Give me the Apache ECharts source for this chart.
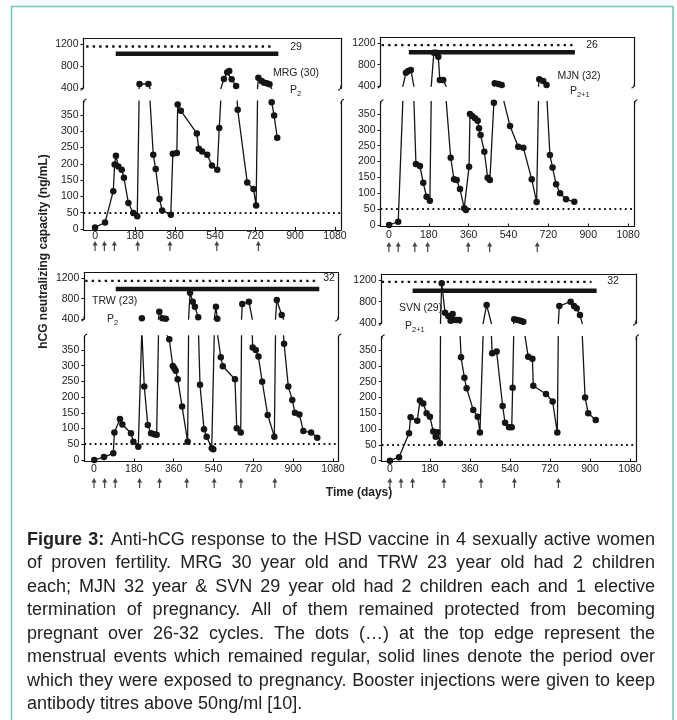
<!DOCTYPE html>
<html>
<head>
<meta charset="utf-8">
<title>Anti-hCG response</title>
<script src="https://cdn.jsdelivr.net/npm/echarts@6/dist/echarts.min.js"></script>
<style>
  html, body { margin: 0; padding: 0; background: #fff; }
  #main { width: 677px; height: 720px; }
</style>
</head>
<body>
<div id="main"></div>
<script>
// ---- data ----
const dayTicks = [0, 180, 360, 540, 720, 900, 1080];
const lowTicks = [0, 50, 100, 150, 200, 250, 300, 350];
const highTicks = [400, 800, 1200];
const titreFloor = 50;

// MRG (30)
const mrgDays = [0, 45, 82, 88, 94, 105, 120, 130, 150, 172, 190, 200, 240, 262, 273, 290, 302, 341, 350, 368, 372, 386, 458, 467, 482, 505, 526, 550, 559, 580, 595, 604, 615, 635, 642, 685, 713, 725, 735, 750, 761, 773, 785, 795, 806, 820];
const mrgValues = [5, 20, 116, 198, 225, 192, 182, 157, 80, 49, 39, 478, 478, 228, 184, 92, 57, 44, 231, 233, 382, 363, 293, 246, 238, 228, 195, 182, 310, 569, 691, 715, 564, 442, 366, 143, 123, 72, 593, 533, 502, 491, 473, 389, 348, 280];
const mrgBoosters = [0, 42, 87, 192, 337, 548, 735];

// MJN (32)
const mjnDays = [1, 42, 77, 87, 99, 122, 140, 155, 170, 185, 203, 212, 223, 230, 245, 279, 294, 306, 321, 340, 348, 362, 366, 376, 389, 401, 407, 414, 431, 446, 456, 474, 478, 494, 509, 547, 584, 607, 645, 667, 679, 697, 712, 727, 739, 755, 773, 800, 837];
const mjnValues = [0, 10, 649, 681, 700, 192, 186, 133, 89, 76, 1024, 1024, 949, 512, 512, 212, 144, 142, 113, 53, 47, 184, 350, 344, 337, 329, 305, 284, 231, 149, 142, 386, 450, 437, 419, 312, 247, 244, 144, 72, 525, 494, 419, 221, 181, 128, 100, 81, 73];
const mjnBoosters = [0, 42, 117, 175, 358, 455, 670];

// TRW (23)
const trwDays = [1, 45, 87, 92, 117, 128, 167, 178, 200, 216, 227, 243, 258, 272, 283, 295, 309, 324, 340, 356, 363, 369, 378, 398, 423, 434, 446, 456, 471, 479, 497, 509, 532, 539, 551, 557, 573, 582, 637, 645, 663, 670, 700, 717, 731, 743, 760, 785, 815, 826, 848, 859, 878, 896, 908, 928, 946, 981, 1009];
const trwValues = [0, 9, 21, 87, 130, 113, 85, 58, 42, 414, 234, 111, 85, 82, 80, 543, 414, 405, 384, 299, 292, 284, 257, 170, 58, 917, 740, 642, 433, 239, 98, 74, 37, 34, 642, 405, 327, 298, 257, 101, 87, 695, 740, 358, 350, 329, 249, 143, 74, 773, 479, 370, 234, 191, 150, 145, 92, 87, 71];
const trwBoosters = [0, 48, 96, 206, 296, 419, 543, 664, 817];

// SVN (29)
const svnDays = [0, 41, 86, 93, 123, 135, 150, 165, 180, 195, 206, 213, 225, 233, 248, 263, 273, 282, 288, 300, 312, 320, 335, 345, 375, 395, 405, 435, 460, 480, 507, 518, 536, 548, 552, 559, 574, 588, 600, 622, 641, 645, 702, 732, 753, 762, 813, 828, 840, 855, 878, 892, 926];
const svnValues = [0, 11, 87, 137, 126, 190, 181, 150, 139, 92, 76, 90, 55, 1138, 596, 535, 448, 572, 461, 461, 461, 327, 262, 229, 160, 139, 89, 738, 340, 345, 173, 120, 106, 106, 231, 474, 461, 448, 430, 329, 322, 237, 211, 187, 89, 720, 800, 720, 677, 553, 200, 150, 129];
const svnBoosters = [0, 50, 102, 243, 410, 560, 758];

// menstrual events (dotted) and exposure (solid bar), in days
const cycleSpans = [[-40, 802], [-33, 831], [-40, 1012], [-37, 907]];
const exposureSpans = [[93, 825], [90, 840], [98, 1018], [102, 930]];
const cycleCounts = ['29', '26', '32', '32'];
const subjects = ['MRG (30)', 'MJN (32)', 'TRW (23)', 'SVN (29)'];
const parity = ['2', '2+1', '2', '2+1'];

const captionLines = [
  'Figure 3: Anti-hCG response to the HSD vaccine in 4 sexually active women',
  'of proven fertility. MRG 30 year old and TRW 23 year old had 2 children',
  'each; MJN 32 year & SVN 29 year old had 2 children each and 1 elective',
  'termination of pregnancy. All of them remained protected from becoming',
  'pregnant over 26-32 cycles. The dots (\u2026) at the top edge represent the',
  'menstrual events which remained regular, solid lines denote the period over',
  'which they were exposed to pregnancy. Booster injections were given to keep',
  'antibody titres above 50ng/ml [10].'
];

// ---- layout ----
const ink = '#151515';
const txt = '#222';
const font = '"Liberation Sans", Arial, sans-serif';

const panels = [
  { days: mrgDays, values: mrgValues, boosters: mrgBoosters,
    left: 83.5, right: 341, xMin: -52, xMax: 1107,
    upTop: 38.3, upBottom: 88.3, upMax: 1310, dotLevel: 1160, barLevel: 1028,
    lowTop: 101.2, lowBottom: 230, lowMin: -3, lowMax: 392, arrowY: 246, lm: 1,
    countPos: [296, 47], namePos: [296, 73, 'center'], pPos: [290, 90] },
  { days: mjnDays, values: mjnValues, boosters: mjnBoosters,
    left: 380.5, right: 634.5, xMin: -38, xMax: 1109,
    upTop: 37.3, upBottom: 86, upMax: 1312, dotLevel: 1165, barLevel: 1030,
    lowTop: 101.7, lowBottom: 226.5, lowMin: -5, lowMax: 389, arrowY: 247, lm: 3,
    countPos: [592, 45], namePos: [579, 76, 'center'], pPos: [570, 91.5] },
  { days: trwDays, values: trwValues, boosters: trwBoosters,
    left: 84.3, right: 338.3, xMin: -44, xMax: 1104,
    upTop: 272.7, upBottom: 319, upMax: 1310, dotLevel: 1150, barLevel: 990,
    lowTop: 336, lowBottom: 461.5, lowMin: -5, lowMax: 394.5, arrowY: 483, lm: 2,
    countPos: [329, 278], namePos: [92, 301.5, 'left'], pPos: [107, 319] },
  { days: svnDays, values: svnValues, boosters: svnBoosters,
    left: 381.7, right: 636, xMin: -37, xMax: 1107,
    upTop: 274, upBottom: 323.3, upMax: 1311, dotLevel: 1165, barLevel: 1003,
    lowTop: 336.7, lowBottom: 461.5, lowMin: -2.5, lowMax: 392, arrowY: 483, lm: 2,
    countPos: [613, 281.5], namePos: [399, 308, 'left'], pPos: [405, 326] }
];

const arrowPath = 'path://M2.5,0 L5,4.6 L3.1,4.6 L3.1,10 L1.9,10 L1.9,4.6 L0,4.6 Z';
const plain = v => String(v);

const grids = [], xAxes = [], yAxes = [], series = [], graphics = [];

function yAxisCfg(grid, min, max, pos, ticks) {
  return {
    gridIndex: grid, type: 'value', min: min, max: max, position: pos,
    axisLine: { show: true, onZero: false, lineStyle: { color: ink, width: 1.2 } },
    axisTick: ticks ? { show: true, length: 3, customValues: ticks, lineStyle: { color: ink } } : { show: false },
    axisLabel: ticks ? { show: true, customValues: ticks, formatter: plain, fontSize: 10.5, color: txt, margin: 5, fontFamily: font } : { show: false },
    splitLine: { show: false }
  };
}

panels.forEach((p, i) => {
  const w = p.right - p.left;
  const gUp = grids.length, gLow = gUp + 1, gArr = gUp + 2;
  grids.push({ left: p.left, width: w, top: p.upTop, height: p.upBottom - p.upTop });
  grids.push({ left: p.left, width: w, top: p.lowTop, height: p.lowBottom - p.lowTop });
  grids.push({ left: p.left, width: w, top: p.arrowY - 5, height: 10 });

  xAxes.push({ gridIndex: gUp, type: 'value', min: p.xMin, max: p.xMax, position: 'top',
    axisLine: { show: true, onZero: false, lineStyle: { color: ink, width: 1.2 } },
    axisTick: { show: false }, axisLabel: { show: false }, splitLine: { show: false } });
  xAxes.push({ gridIndex: gLow, type: 'value', min: p.xMin, max: p.xMax, position: 'bottom',
    axisLine: { show: true, onZero: false, lineStyle: { color: ink, width: 1.2 } },
    axisTick: { show: true, inside: true, length: 3, customValues: dayTicks, lineStyle: { color: ink } },
    axisLabel: { customValues: dayTicks, formatter: plain, fontSize: 10.5, color: txt, margin: p.lm, fontFamily: font },
    splitLine: { show: false } });
  xAxes.push({ gridIndex: gArr, type: 'value', min: p.xMin, max: p.xMax, show: false });

  const yUp = yAxes.length;
  yAxes.push(yAxisCfg(gUp, 400, p.upMax, 'left', highTicks));
  yAxes.push(yAxisCfg(gUp, 400, p.upMax, 'right', null));
  const yLow = yAxes.length;
  yAxes.push(yAxisCfg(gLow, p.lowMin, p.lowMax, 'left', lowTicks));
  yAxes.push(yAxisCfg(gLow, p.lowMin, p.lowMax, 'right', null));
  const yArr = yAxes.length;
  yAxes.push({ gridIndex: gArr, type: 'value', min: 0, max: 1, show: false });

  const pts = p.days.map((d, k) => [d, p.values[k]]);
  const lineBase = {
    type: 'line', data: pts, clip: true, symbol: 'circle', symbolSize: 6.5,
    itemStyle: { color: ink }, lineStyle: { color: ink, width: 1.3 }, z: 4, silent: true
  };
  series.push(Object.assign({}, lineBase, { xAxisIndex: gUp, yAxisIndex: yUp }));
  series.push(Object.assign({}, lineBase, { xAxisIndex: gLow, yAxisIndex: yLow,
    markLine: { silent: true, symbol: 'none', label: { show: false },
      lineStyle: { color: ink, type: [1.8, 3.4], width: 1.8 },
      data: [{ yAxis: titreFloor }] } }));

  // menstrual events (dots) and exposure period (bar)
  series.push({ type: 'line', xAxisIndex: gUp, yAxisIndex: yUp, symbol: 'none', silent: true,
    data: cycleSpans[i].map(d => [d, p.dotLevel]),
    lineStyle: { color: ink, width: 2.4, type: [2.4, 4.1], cap: 'butt' } });
  series.push({ type: 'line', xAxisIndex: gUp, yAxisIndex: yUp, symbol: 'none', silent: true,
    data: exposureSpans[i].map(d => [d, p.barLevel]),
    lineStyle: { color: ink, width: 4.5, cap: 'butt' } });

  // booster injections
  series.push({ type: 'scatter', xAxisIndex: gArr, yAxisIndex: yArr, silent: true,
    symbol: arrowPath, symbolSize: [5, 10], itemStyle: { color: ink },
    data: p.boosters.map(d => [d, 0.5]) });

  // annotations
  graphics.push({ type: 'text', x: p.countPos[0], y: p.countPos[1],
    style: { text: cycleCounts[i], fontSize: 10.5, fontFamily: font, fill: txt, align: 'center', verticalAlign: 'middle' } });
  graphics.push({ type: 'text', x: p.namePos[0], y: p.namePos[1],
    style: { text: subjects[i], fontSize: 10.5, fontFamily: font, fill: txt, align: p.namePos[2], verticalAlign: 'middle' } });
  graphics.push({ type: 'text', x: p.pPos[0], y: p.pPos[1],
    style: { text: 'P', fontSize: 10.5, fontFamily: font, fill: txt, align: 'left', verticalAlign: 'middle' } });
  graphics.push({ type: 'text', x: p.pPos[0] + 7, y: p.pPos[1] + 3.5,
    style: { text: parity[i], fontSize: 7.5, fontFamily: font, fill: txt, align: 'left', verticalAlign: 'middle' } });

  // axis break marks
  [p.left, p.right].forEach(x => {
    graphics.push({ type: 'bezierCurve', x: x, y: p.upBottom, silent: true,
      shape: { x1: 0, y1: -3, cpx1: 0, cpy1: 1.5, x2: -3, y2: 2 },
      style: { fill: null, stroke: ink, lineWidth: 1.1 } });
    graphics.push({ type: 'bezierCurve', x: x, y: p.lowTop, silent: true,
      shape: { x1: 0, y1: 3, cpx1: 0, cpy1: -1.5, x2: 3, y2: -2 },
      style: { fill: null, stroke: ink, lineWidth: 1.1 } });
  });
});

// axis titles
graphics.push({ type: 'text', x: 44, y: 251.5, rotation: Math.PI / 2,
  style: { text: 'hCG neutralizing capacity (ng/mL)', fontSize: 12, fontWeight: 'bold', fontFamily: font,
    fill: txt, align: 'center', verticalAlign: 'middle' } });
graphics.push({ type: 'text', x: 359, y: 493,
  style: { text: 'Time (days)', fontSize: 12, fontWeight: 'bold', fontFamily: font,
    fill: txt, align: 'center', verticalAlign: 'middle' } });

// outer frame
graphics.push({ type: 'rect', silent: true, shape: { x: 11.5, y: 6.5, width: 661.5, height: 730 },
  style: { fill: 'none', stroke: '#6bcab9', lineWidth: 1.5 } });

// caption, justified word by word
const ctx = document.createElement('canvas').getContext('2d');
function textWidth(f, s) { ctx.font = f; return ctx.measureText(s).width; }
const capLeft = 27, capWidth = 628, capTop = 540, capStep = 23.5;
function wordFont(bold, size) { return (bold ? 'bold ' : '') + size + 'px ' + font; }
function naturalWidth(line, li, size) {
  return line.split(' ').reduce((s, wd, k) => s + textWidth(wordFont(li === 0 && k < 2, size), wd), 0)
    + (line.split(' ').length - 1) * textWidth(wordFont(false, size), ' ');
}
const fitSize = Math.min.apply(null, captionLines.map((l, li) => capWidth * 100 / naturalWidth(l, li, 100)));
const capSize = Math.min(18, Math.floor(fitSize * 10) / 10);

captionLines.forEach((line, li) => {
  const words = line.split(' ');
  const bolds = words.map((wd, k) => li === 0 && k < 2);
  const widths = words.map((wd, k) => textWidth(wordFont(bolds[k], capSize), wd));
  const total = widths.reduce((a, b) => a + b, 0);
  const last = li === captionLines.length - 1;
  const gap = last ? textWidth(wordFont(false, capSize), ' ') : (capWidth - total) / (words.length - 1);
  let x = capLeft;
  words.forEach((wd, k) => {
    graphics.push({ type: 'text', x: x, y: capTop + li * capStep,
      style: { text: wd, fontSize: capSize, fontWeight: bolds[k] ? 'bold' : 'normal', fontFamily: font,
        fill: '#222', align: 'left', verticalAlign: 'middle' } });
    x += widths[k] + gap;
  });
});

const chart = echarts.init(document.getElementById('main'));
chart.setOption({
  animation: false,
  backgroundColor: '#fff',
  textStyle: { fontFamily: font },
  grid: grids,
  xAxis: xAxes,
  yAxis: yAxes,
  series: series,
  graphic: graphics
});
</script>
</body>
</html>
